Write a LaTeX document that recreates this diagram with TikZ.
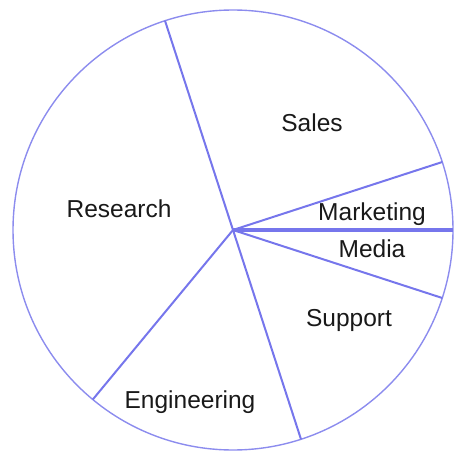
\documentclass[tikz,border=0pt]{standalone}
\usepackage{fontspec}
\setmainfont{Liberation Sans}
\definecolor{pieline}{RGB}{118,118,236}
\definecolor{rimline}{RGB}{140,140,238}
\begin{document}
\begin{tikzpicture}[x=1pt,y=-1pt,
  radial/.style={draw=pieline,line width=2pt},
  rim/.style={draw=rimline,line width=1.4pt},
  lbl/.style={font=\fontsize{24.5}{28}\selectfont,anchor=base,inner sep=0pt,text=black!90}]
\useasboundingbox (0,0) rectangle (454,454);
\coordinate (c) at (233,230);
\draw[rim] (c) circle[radius=220];
\foreach \a in {108,18,-18,-72,-129.6}{
  \draw[radial] (c) -- ++({220*cos(\a)},{-220*sin(\a)});
}
\draw[radial,line width=3.6pt] (c) -- ++(220,0);
\node[lbl] (sales) at (312,132) {Sales};
\node[lbl] (marketing) at (372,220) {Marketing};
\node[lbl] (media) at (372,257) {Media};
\node[lbl] (support) at (349,326) {Support};
\node[lbl] (engineering) at (190,408) {Engineering};
\node[lbl] (research) at (119,217) {Research};
\end{tikzpicture}
\end{document}
